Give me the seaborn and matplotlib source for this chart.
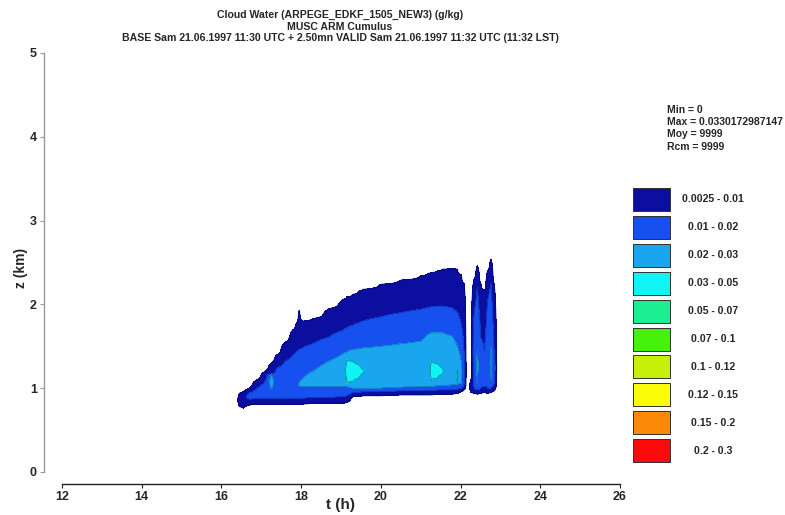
import numpy as np
import matplotlib
matplotlib.use("Agg")
import matplotlib.pyplot as plt
from matplotlib.patches import Rectangle
import seaborn as sns

n = np.nan

# ---- cloud water field, described column by column (t in hours, z in km) ----
# For each time column: bottom/top heights of the 0.0025, 0.01, 0.02 and 0.03 g/kg
# isolines and the column maximum (g/kg). NaN = isoline absent in that column.
t_h = [16.38, 16.45, 16.55, 16.70, 16.90, 17.10, 17.25, 17.40, 17.60, 17.80,
       17.88, 17.95, 18.03, 18.30, 18.70, 19.05, 19.15, 19.30, 19.45, 19.55,
       20.00, 20.50, 21.00, 21.18, 21.26, 21.42, 21.55, 21.80, 21.92, 22.02,
       22.09, 22.15, 22.19, 22.26, 22.34, 22.42, 22.51, 22.60, 22.68, 22.76,
       22.84, 22.92]
z_bot_0025 = [n, .78, .76, .80, .81, .81, .81, .81, .81, .81,
              .81, .81, .81, .82, .82, .82, .83, .90, .90, .91,
              .91, .92, .92, .92, .92, .93, .93, .93, .94, .96,
              .98, n, n, .95, .94, .93, .94, .95, .94, .95,
              .97, n]
z_top_0025 = [n, .94, .96, 1.00, 1.10, 1.20, 1.30, 1.40, 1.55, 1.70,
              1.78, 1.93, 1.80, 1.83, 1.95, 2.06, 2.09, 2.12, 2.16, 2.18,
              2.24, 2.29, 2.34, 2.37, 2.38, 2.40, 2.42, 2.43, 2.42, 2.35,
              2.25, n, n, 1.10, 2.30, 2.46, 2.25, 2.17, 2.40, 2.54,
              2.25, n]
z_bot_001 = [n, n, n, .87, .88, .88, .88, .88, .88, .88,
             .88, .88, .88, .89, .89, .90, .91, .95, .95, .96,
             .96, .97, .97, .97, .97, .98, .98, .98, .99, 1.00,
             1.04, n, n, n, 1.00, .98, 1.00, 1.02, 1.00, 1.00,
             1.05, n]
z_top_001 = [n, n, n, .94, 1.00, 1.08, 1.15, 1.24, 1.32, 1.40,
             1.43, 1.46, 1.48, 1.53, 1.61, 1.69, 1.72, 1.75, 1.78, 1.80,
             1.85, 1.90, 1.94, 1.96, 1.97, 1.98, 1.98, 1.95, 1.90, 1.75,
             1.40, n, n, n, 1.90, 2.20, 1.60, 1.45, 2.05, 2.25,
             1.45, n]
z_bot_002 = [n, n, n, n, n, n, .99, n, n, n,
             n, 1.03, 1.02, 1.02, 1.02, 1.02, 1.02, 1.00, 1.00, 1.00,
             1.00, 1.01, 1.02, 1.02, 1.02, 1.03, 1.03, 1.04, 1.05, 1.06,
             n, n, n, n, n, 1.05, n, n, n, 1.10,
             n, n]
z_top_002 = [n, n, n, n, n, n, 1.17, n, n, n,
             n, 1.06, 1.10, 1.20, 1.32, 1.41, 1.43, 1.46, 1.47, 1.48,
             1.50, 1.53, 1.56, 1.64, 1.66, 1.66, 1.66, 1.62, 1.50, 1.30,
             n, n, n, n, n, 1.45, n, n, n, 1.50,
             n, n]
z_bot_003 = [n] * 16 + [1.06, 1.08, 1.12, 1.18] + [n] * 4 + [1.10, 1.12, 1.17] + [n] + [1.07] + [n] * 13
z_top_003 = [n] * 16 + [1.34, 1.32, 1.28, 1.22] + [n] * 4 + [1.31, 1.29, 1.23] + [n] + [1.22] + [n] * 13
q_max = [0, .006, .006, .015, .015, .015, .024, .015, .015, .015,
         .018, .022, .025, .025, .026, .026, .0330172987147, .033, .032, .0305,
         .026, .026, .026, .027, .0325, .032, .0305, .026, .031, .022,
         .012, 0, 0, .005, .015, .022, .015, .015, .015, .022,
         .015, 0]

# ---- shading classes (g/kg) ----
levels = [0.0025, 0.01, 0.02, 0.03, 0.05, 0.07, 0.1, 0.12, 0.15, 0.2, 0.3]
class_labels = ["0.0025 - 0.01", "0.01 - 0.02", "0.02 - 0.03", "0.03 - 0.05",
                "0.05 - 0.07", "0.07 - 0.1", "0.1 - 0.12", "0.12 - 0.15",
                "0.15 - 0.2", "0.2 - 0.3"]
class_colors = ["#0c0ea0", "#1650ee", "#1aa6ee", "#10f4f6", "#1cee92",
                "#46f20c", "#c6f00a", "#fcfc06", "#fc8a08", "#fc0a0a"]

x_ticks = [12, 14, 16, 18, 20, 22, 24, 26]
y_ticks = [0, 1, 2, 3, 4, 5]

title_lines = ["Cloud Water (ARPEGE_EDKF_1505_NEW3) (g/kg)",
               "MUSC ARM Cumulus",
               "BASE Sam 21.06.1997 11:30 UTC + 2.50mn VALID Sam 21.06.1997 11:32 UTC (11:32 LST)"]
stats_lines = ["Min = 0", "Max = 0.0330172987147", "Moy = 9999", "Rcm = 9999"]


def column_profile(z, zb0, zt0, zb1, zt1, zb2, zt2, zb3, zt3, peak):
    """Piecewise-linear vertical profile through the isoline heights of one column."""
    if np.isnan(zb0):
        return np.zeros_like(z)
    lows = [(h, v) for h, v in ((zb0, levels[0]), (zb1, levels[1]),
                                 (zb2, levels[2]), (zb3, levels[3])) if not np.isnan(h)]
    highs = [(h, v) for h, v in ((zt3, levels[3]), (zt2, levels[2]),
                                  (zt1, levels[1]), (zt0, levels[0])) if not np.isnan(h)]
    mid = 0.5 * (lows[-1][0] + highs[0][0])
    kz = [zb0 - 0.03] + [h for h, _ in lows] + [mid] + [h for h, _ in highs] + [zt0 + 0.03]
    kv = [0.0] + [v for _, v in lows] + [peak] + [v for _, v in highs] + [0.0]
    return np.interp(z, kz, kv, left=0.0, right=0.0)


z_grid = np.linspace(0, 5, 1001)
field = np.column_stack([
    column_profile(z_grid, *vals)
    for vals in zip(z_bot_0025, z_top_0025, z_bot_001, z_top_001,
                    z_bot_002, z_top_002, z_bot_003, z_top_003, q_max)
])

# ---- figure ----
sns.set_style("white")
plt.rcParams["font.family"] = ["Liberation Sans", "DejaVu Sans"]

W, H = 785, 515
fig = plt.figure(figsize=(W / 100, H / 100), dpi=100)


def fx(px):
    return px / W


def fy(py):
    return 1 - py / H


ax = fig.add_axes([fx(62), fy(472), fx(620) - fx(62), fy(53) - fy(472)])
ax.contourf(t_h, z_grid, field, levels=levels, colors=class_colors)
ax.contour(t_h, z_grid, field, levels=levels[:4],
           colors=["#06087a", "#0d36b8", "#1478c0", "#0a8a90"], linewidths=0.6)

ax.set_xlim(12, 26)
ax.set_ylim(0, 5)
ax.set_xticks(x_ticks)
ax.set_yticks(y_ticks)
sns.despine(ax=ax, offset={"left": 13, "bottom": 8.6})
ax.spines["left"].set_color("#9a9a9a")
ax.spines["left"].set_linewidth(1.0)
ax.spines["bottom"].set_color("#222222")
ax.spines["bottom"].set_linewidth(1.0)
ax.tick_params(axis="y", length=3, width=0.8, color="#9a9a9a", pad=2, direction="out", left=True)
ax.tick_params(axis="x", length=3, width=0.8, color="#222222", pad=2, direction="out", bottom=True)
ax.set_xticklabels([str(v) for v in x_ticks])
ax.set_yticklabels([str(v) for v in y_ticks])
for lab in ax.get_xticklabels() + ax.get_yticklabels():
    lab.set_fontsize(9)
    lab.set_fontweight("bold")
ax.grid(False)

fig.text(fx(21), fy(268), "z (km)", rotation=90, ha="center", va="center",
         fontsize=10, fontweight="bold")
fig.text(fx(341), fy(505), "t (h)", ha="center", va="center",
         fontsize=11, fontweight="bold")

for i, line in enumerate(title_lines):
    fig.text(fx(340), fy(15 + 11.5 * i), line, ha="center", va="center",
             fontsize=7.6, fontweight="bold")

for i, line in enumerate(stats_lines):
    fig.text(fx(667), fy(110 + 12.2 * i), line, ha="left", va="center",
             fontsize=7.5, fontweight="bold")

# colour key
box_w, box_h, step = 37, 23, 27.9
for i, (lab, col) in enumerate(zip(class_labels, class_colors)):
    top = 188 + step * i
    fig.add_artist(Rectangle((fx(633), fy(top + box_h)), fx(633 + box_w) - fx(633),
                             fy(top) - fy(top + box_h), transform=fig.transFigure,
                             facecolor=col, edgecolor="#303030", linewidth=0.7))
    fig.text(fx(713), fy(top + box_h / 2), lab, ha="center", va="center",
             fontsize=7.6, fontweight="bold")

fig.savefig("out.png", dpi=100, facecolor="white")
